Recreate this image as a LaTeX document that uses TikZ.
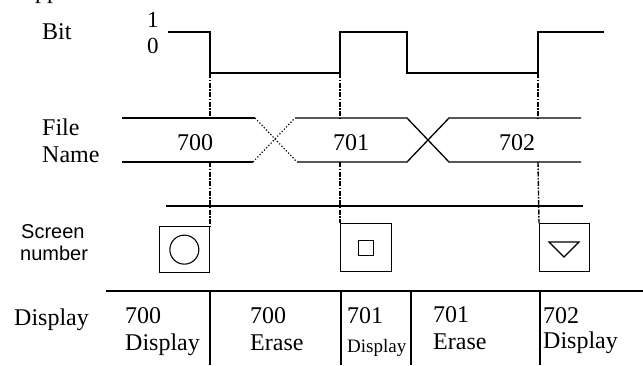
\documentclass[tikz,border=0pt]{standalone}
\usepackage{fontspec}
\setmainfont{Liberation Serif}
\newfontfamily\sansf{Liberation Sans}
\begin{document}
\begin{tikzpicture}[x=1pt,y=-1pt,
  sig/.style={line width=1.3pt, line join=miter},
  guide/.style={line width=1.4pt, dash pattern=on 5pt off 1.5pt on 1.5pt off 1.5pt},
  lbl/.style={anchor=base west, inner sep=0pt, font=\fontsize{24}{26}\selectfont},
  slbl/.style={anchor=base west, inner sep=0pt, font=\sansf\fontsize{20}{22}\selectfont},
  tiny/.style={anchor=base west, inner sep=0pt, font=\fontsize{19}{21}\selectfont},
  digit/.style={anchor=base west, inner sep=0pt, font=\fontsize{23}{25}\selectfont}]
\useasboundingbox (0,0) rectangle (643,365);
\begin{scope}
\clip (0,0) rectangle (643,365);
\node[lbl] (pp) at (35,-2) {pp};
\end{scope}
% Bit row
\node[lbl] (bit) at (42,39) {Bit};
\node[digit] (one) at (147,27) {1};
\node[digit] (zero) at (147,53) {0};
\coordinate (b0) at (168,32);
\coordinate (e1) at (210,73);
\coordinate (e2) at (340,73);
\coordinate (e3) at (538,73);
\draw[sig] (b0) -- (210,32) -- (e1) -- (340,73) -- (340,32) -- (407,32) -- (407,73) -- (538,73) -- (538,32) -- (604,32);
% File name bus
\node[lbl] (file) at (42,135) {File};
\node[lbl] (name) at (42,162) {Name};
\draw[sig] (122,118) -- (255,118);
\draw[sig] (122,162) -- (253,162);
\draw[line width=1.2pt, dotted] (255,118) -- (297,162);
\draw[line width=1.2pt, dotted] (253,162) -- (295,118);
\draw[sig] (295,118) -- (407,118) -- (449,162) -- (581,162);
\draw[sig] (297,162) -- (407,162) -- (449,118) -- (581,118);
\node[lbl] (f700) at (177,150) {700};
\node[lbl] (f701) at (333,150) {701};
\node[lbl] (f702) at (499,150) {702};
% Screen number
\node[slbl] (scr) at (21,238) {Screen};
\node[slbl] (num) at (20,260) {number};
\draw[sig] (166,206) -- (583,206);
\node[draw, line width=1.3pt, minimum width=50pt, minimum height=46pt, inner sep=0pt, anchor=north east] (box1) at (210,226) {};
\node[draw, line width=1.1pt, circle, minimum size=29pt, inner sep=0pt] (circ) at (box1.center) {};
\node[draw, line width=1.3pt, minimum width=51pt, minimum height=48pt, inner sep=0pt, anchor=north west] (box2) at (340,223) {};
\node[draw, line width=1.1pt, minimum size=15pt, inner sep=0pt] (sq) at (box2.center) {};
\node[draw, line width=1.3pt, minimum width=50pt, minimum height=48pt, inner sep=0pt, anchor=north west] (box3) at (539,223) {};
\coordinate (t1) at (549,242);
\coordinate (t2) at (579,242);
\coordinate (t3) at (564,257);
\draw[line width=1.1pt] (t1) -- (t2) -- (t3) -- cycle;
% guides (hidden inside the bus)
\coordinate (g1a) at (210,118); \coordinate (g1b) at (210,162);
\coordinate (g2a) at (340,118); \coordinate (g2b) at (340,162);
\coordinate (g3a) at (538,118); \coordinate (g3b) at (538,162);
\draw[guide] (e1) -- (g1a);
\draw[guide] (g1b) -- (box1.north east);
\draw[guide] (e2) -- (g2a);
\draw[guide] (g2b) -- (box2.north west);
\draw[guide] (e3) -- (g3a);
\draw[guide] (g3b) -- (box3.north west);
% Display row
\coordinate (hl) at (106,291);
\coordinate (hr) at (643,291);
\draw[sig] (hl) -- (hr);
\foreach \x in {210,341,411,540} \draw[sig] (\x,291) -- (\x,365);
\node[lbl] (disp) at (14,325) {Display};
\node[lbl] (c1a) at (125,323) {700};
\node[lbl] (c1b) at (125,350) {Display};
\node[lbl] (c2a) at (250,323) {700};
\node[lbl] (c2b) at (250,350) {Erase};
\node[lbl] (c3a) at (347,323) {701};
\node[tiny] (c3b) at (347,352) {Display};
\node[lbl] (c4a) at (433,322) {701};
\node[lbl] (c4b) at (433,349) {Erase};
\node[lbl] (c5a) at (543,323) {702};
\node[lbl] (c5b) at (543,348) {Display};
\end{tikzpicture}
\end{document}
